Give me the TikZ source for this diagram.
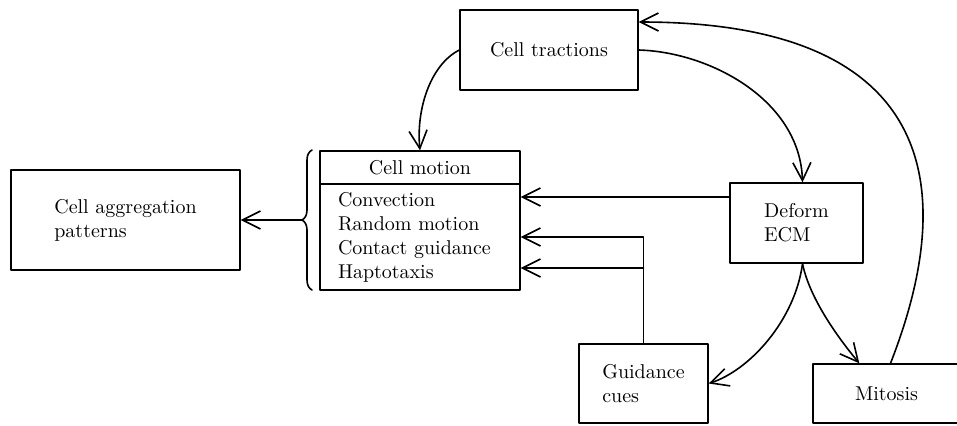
\documentclass[tikz,border=0pt]{standalone}
\usetikzlibrary{arrows.meta,decorations.pathreplacing}
\begin{document}
\begin{tikzpicture}[x=0.5pt,y=-0.5pt,>={Straight Barb[length=9pt,width=9pt]}, line join=round, line cap=round, thick,
	box/.style={draw, line width=0.7pt, inner sep=0pt, align=left}]
	\useasboundingbox (0,0) rectangle (957,425);
	
	\node (agg) at (125.5,220) [box, minimum width=114.5pt, minimum height=50pt] {Cell aggregation\\patterns};
	\node (head) at (420,167.5) [box, minimum width=100pt, minimum height=16.5pt] {Cell motion};
	\node (body) at (420,237) [box, text width=82pt, inner xsep=9pt, minimum height=53pt] {Convection\\Random motion\\Contact guidance\\Haptotaxis};
	\node (trac) at (549,50) [box, minimum width=89pt, minimum height=40pt] {Cell tractions};
	\node (deform) at (796.5,223) [box, minimum width=66.5pt, minimum height=40pt] {Deform\\ECM};
	\node (guid) at (643.5,383.5) [box, minimum width=64.5pt, minimum height=39.5pt] {Guidance\\cues};
	\node (mit) at (886.5,393.5) [box, minimum width=73.5pt, minimum height=29.5pt] {Mitosis};
	
	\draw[decorate, decoration={brace, amplitude=5pt}] (312,290) -- (312,150);
	\coordinate (bt) at (302,220);
	\draw[->] (bt) -- (agg.east);
	
	\draw[->] (trac.west) .. controls (430,65) and (416,110) .. (head.north);
	\draw[->] (trac.east) .. controls (710,52) and (800,100) .. ([xshift=3pt]deform.north);
	\draw[->] ([xshift=2pt]mit.north) .. controls (970,160) and (910,22) .. ([yshift=14pt]trac.east);
	\draw[->] ([xshift=3pt]deform.south) .. controls (795,320) and (750,370) .. (guid.east);
	\draw[->] ([xshift=3pt]deform.south) .. controls (810,300) and (840,340) .. ([xshift=23.5pt]mit.north west);
	
	\draw[->] ([yshift=13pt]deform.west) -- ([yshift=13pt]deform.west -| body.east);
	\draw[->] (guid.north) |- (body.east);
	\coordinate (split) at ([yshift=-15.5pt]body.east -| guid.north);
	\draw[->] (split) -- (split -| body.east);
\end{tikzpicture}
\end{document}
